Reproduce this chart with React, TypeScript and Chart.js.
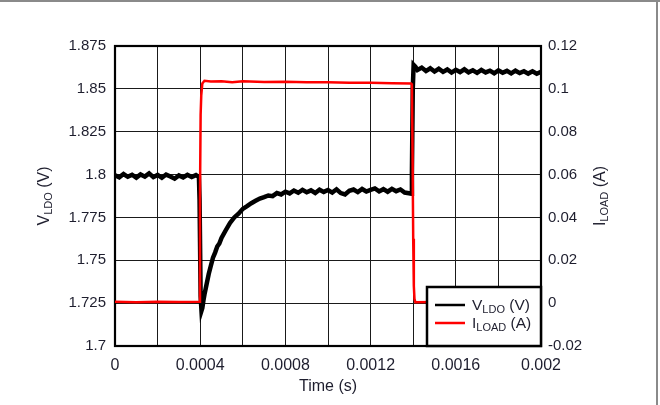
import React, { useEffect, useRef } from 'react';
import { Chart, registerables } from 'chart.js';

Chart.register(...registerables);

// ---------- data ----------
const timeV = [
  0, 0.00002, 0.00004, 0.00006, 0.00008, 0.0001, 0.00012, 0.00014, 0.00016, 0.00018,
  0.0002, 0.00022, 0.00024, 0.00026, 0.00028, 0.0003, 0.00032, 0.00034, 0.00036, 0.00038,
  0.000394, 0.000397, 0.000402, 0.000406, 0.00041, 0.000415, 0.00042, 0.00043, 0.00044, 0.00045,
  0.00046, 0.00047, 0.00048, 0.00049, 0.0005, 0.00052, 0.00054, 0.00056, 0.00058, 0.0006,
  0.00062, 0.00064, 0.00066, 0.00068, 0.0007, 0.00072, 0.00074, 0.00076, 0.00078, 0.0008,
  0.00082, 0.00084, 0.00086, 0.00088, 0.0009, 0.00092, 0.00094, 0.00096, 0.00098, 0.001,
  0.00102, 0.00104, 0.00106, 0.00108, 0.0011, 0.00112, 0.00114, 0.00116, 0.00118, 0.0012,
  0.00122, 0.00124, 0.00126, 0.00128, 0.0013, 0.00132, 0.00134, 0.00136, 0.00138, 0.001392,
  0.001394, 0.001398, 0.001402, 0.00141, 0.00142, 0.00144, 0.00146, 0.00148, 0.0015, 0.00152,
  0.00154, 0.00156, 0.00158, 0.0016, 0.00162, 0.00164, 0.00166, 0.00168, 0.0017, 0.00172,
  0.00174, 0.00176, 0.00178, 0.0018, 0.00182, 0.00184, 0.00186, 0.00188, 0.0019, 0.00192,
  0.00194, 0.00196, 0.00198, 0.002,
];
const vLdo = [
  1.7996, 1.7984, 1.8003, 1.7987, 1.7999, 1.7982, 1.8001, 1.7988, 1.8007, 1.7985,
  1.7998, 1.7981, 1.8, 1.7989, 1.7976, 1.7995, 1.7983, 1.7999, 1.7986, 1.7997,
  1.7986, 1.7855, 1.729, 1.7206, 1.7222, 1.7265, 1.73, 1.736, 1.742, 1.7468,
  1.7515, 1.7545, 1.758, 1.7598, 1.763, 1.7675, 1.7718, 1.775, 1.7772, 1.78,
  1.7816, 1.7833, 1.7847, 1.786, 1.7868, 1.7878, 1.7874, 1.7892, 1.7884, 1.79,
  1.789, 1.7907, 1.7894, 1.7911, 1.7897, 1.7908, 1.7893, 1.7912, 1.7899, 1.791,
  1.7895, 1.7914, 1.7892, 1.7884, 1.7905, 1.7913, 1.7898, 1.7916, 1.7901, 1.7911,
  1.7919, 1.7902, 1.7915, 1.79, 1.7917, 1.7903, 1.7913, 1.7895, 1.7891, 1.7888,
  1.801, 1.85, 1.864, 1.863, 1.861, 1.8624, 1.8604, 1.862, 1.8601, 1.8617,
  1.8599, 1.8613, 1.8595, 1.8611, 1.8598, 1.8614, 1.8596, 1.8608, 1.8593, 1.861,
  1.8596, 1.8606, 1.8591, 1.8608, 1.8594, 1.8605, 1.859, 1.8606, 1.8592, 1.8603,
  1.8589, 1.8602, 1.8588, 1.8599,
];
const timeI = [
  0, 0.0001, 0.0002, 0.0003, 0.000396, 0.000399, 0.000402, 0.000405, 0.00041, 0.00042,
  0.00045, 0.0005, 0.00055, 0.0006, 0.0007, 0.0008, 0.0009, 0.001, 0.0011, 0.0012,
  0.0013, 0.00139, 0.001394, 0.001397, 0.0014, 0.001403, 0.001406, 0.00141, 0.0015, 0.0017,
  0.002,
];
const iLoad = [
  0.0006, 0.0004, 0.0007, 0.0005, 0.0006, 0.05, 0.088, 0.097, 0.1025, 0.1038,
  0.1034, 0.1036, 0.1031, 0.1036, 0.1032, 0.1033, 0.1031, 0.1031, 0.1029, 0.1028,
  0.1026, 0.1025, 0.102, 0.07, 0.03, 0.008, 0.002, 0.0004, 0.0005, 0.0004,
  0.0005,
];

const xTicks = [0, 0.0002, 0.0004, 0.0006, 0.0008, 0.001, 0.0012, 0.0014, 0.0016, 0.0018, 0.002];
const xTickLabels = ['0', '', '0.0004', '', '0.0008', '', '0.0012', '', '0.0016', '', '0.002'];
const yLeftTicks = [1.7, 1.725, 1.75, 1.775, 1.8, 1.825, 1.85, 1.875];
const yLeftLabels = ['1.7', '1.725', '1.75', '1.775', '1.8', '1.825', '1.85', '1.875'];
const yRightTicks = [-0.02, 0, 0.02, 0.04, 0.06, 0.08, 0.1, 0.12];
const yRightLabels = ['-0.02', '0', '0.02', '0.04', '0.06', '0.08', '0.1', '0.12'];

const xTitle = 'Time (s)';
// rich text: [text, isSubscript]
const leftTitle: [string, boolean][] = [['V', false], ['LDO', true], [' (V)', false]];
const rightTitle: [string, boolean][] = [['I', false], ['LOAD', true], [' (A)', false]];
const seriesColors = ['#000000', '#ff0000'];

const FONT = "'Liberation Sans', Arial, sans-serif";
const TEXT = '#1e1e2e';
const MAIN = 16;
const SUB = 11;

function richWidth(ctx: CanvasRenderingContext2D, parts: [string, boolean][], main: number, sub: number) {
  let w = 0;
  for (const [t, s] of parts) {
    ctx.font = `${s ? sub : main}px ${FONT}`;
    w += ctx.measureText(t).width;
  }
  return w;
}
function drawRich(ctx: CanvasRenderingContext2D, parts: [string, boolean][], x: number, y: number, main: number, sub: number) {
  let cx = x;
  for (const [t, s] of parts) {
    ctx.font = `${s ? sub : main}px ${FONT}`;
    ctx.fillText(t, cx, s ? y + 3 : y);
    cx += ctx.measureText(t).width;
  }
}

const overlay = {
  id: 'overlay',
  beforeDraw(chart: any) {
    const ctx = chart.ctx as CanvasRenderingContext2D;
    ctx.save();
    ctx.fillStyle = '#8a8a8a';
    ctx.fillRect(0, 0, chart.width, 2);
    ctx.fillRect(656, 0, 2, chart.height);
    ctx.restore();
  },
  beforeDatasetsDraw(chart: any) {
    const ctx = chart.ctx as CanvasRenderingContext2D;
    const a = chart.chartArea;
    ctx.save();
    ctx.strokeStyle = '#000';
    ctx.lineWidth = 2.2;
    ctx.strokeRect(a.left, a.top, a.right - a.left, a.bottom - a.top);
    ctx.restore();
  },
  afterDatasetsDraw(chart: any) {
    const ctx = chart.ctx as CanvasRenderingContext2D;
    const a = chart.chartArea;
    ctx.save();
    // legend box
    const bw = 114, bh = 59;
    const bx = a.right - bw, by = a.bottom - bh;
    ctx.fillStyle = '#fff';
    ctx.fillRect(bx, by, bw, bh);
    ctx.strokeStyle = '#000';
    ctx.lineWidth = 2.5;
    ctx.strokeRect(bx, by, bw, bh);
    const items = [leftTitle, rightTitle];
    items.forEach((parts, i) => {
      const ly = by + 18 + i * 18;
      ctx.strokeStyle = seriesColors[i];
      ctx.lineWidth = 2.5;
      ctx.beginPath();
      ctx.moveTo(bx + 8, ly);
      ctx.lineTo(bx + 38, ly);
      ctx.stroke();
      ctx.fillStyle = TEXT;
      ctx.textBaseline = 'alphabetic';
      ctx.textAlign = 'left';
      drawRich(ctx, parts, bx + 45, ly + 5, 15.5, 11);
    });
    // axis titles
    ctx.fillStyle = TEXT;
    ctx.textBaseline = 'alphabetic';
    ctx.textAlign = 'left';
    ctx.font = `${MAIN}px ${FONT}`;
    const cx = (a.left + a.right) / 2;
    const cy = (a.top + a.bottom) / 2;
    const tw = ctx.measureText(xTitle).width;
    ctx.fillText(xTitle, cx - tw / 2, 391);
    ctx.save();
    ctx.translate(49, cy);
    ctx.rotate(-Math.PI / 2);
    drawRich(ctx, leftTitle, -richWidth(ctx, leftTitle, MAIN, SUB) / 2, 0, MAIN, SUB);
    ctx.restore();
    ctx.save();
    ctx.translate(605, cy);
    ctx.rotate(-Math.PI / 2);
    drawRich(ctx, rightTitle, -richWidth(ctx, rightTitle, MAIN, SUB) / 2, 0, MAIN, SUB);
    ctx.restore();
    ctx.restore();
  },
};

export default function App() {
  const ref = useRef<HTMLCanvasElement>(null);
  useEffect(() => {
    if (!ref.current) return;
    const chart = new Chart(ref.current, {
      type: 'line',
      data: {
        datasets: [
          {
            label: 'VLDO (V)',
            data: timeV.map((t, i) => ({ x: t, y: vLdo[i] })),
            borderColor: seriesColors[0],
            borderWidth: 4.5,
            pointRadius: 0,
            tension: 0,
            yAxisID: 'y',
            order: 1,
          },
          {
            label: 'ILOAD (A)',
            data: timeI.map((t, i) => ({ x: t, y: iLoad[i] })),
            borderColor: seriesColors[1],
            borderWidth: 2.5,
            pointRadius: 0,
            tension: 0,
            yAxisID: 'y2',
            order: 0,
          },
        ],
      },
      options: {
        responsive: false,
        animation: false,
        events: [],
        layout: { padding: { top: 46, left: 0, right: 0, bottom: 0 } },
        plugins: { legend: { display: false }, tooltip: { enabled: false } },
        scales: {
          x: {
            type: 'linear',
            min: 0,
            max: 0.002,
            afterBuildTicks: (s: any) => { s.ticks = xTicks.map((v) => ({ value: v })); },
            afterFit: (s: any) => { s.height = 59; },
            ticks: {
              autoSkip: false,
              maxRotation: 0,
              padding: 10,
              color: TEXT,
              font: { family: FONT, size: 16 },
              callback: (_v: any, i: number) => xTickLabels[i],
            },
            grid: { color: '#1a1a1a', lineWidth: 1, drawTicks: false },
            border: { display: false },
          },
          y: {
            type: 'linear',
            position: 'left',
            min: 1.7,
            max: 1.875,
            afterBuildTicks: (s: any) => { s.ticks = yLeftTicks.map((v) => ({ value: v })); },
            afterFit: (s: any) => { s.width = 115; },
            ticks: {
              padding: 9,
              color: TEXT,
              font: { family: FONT, size: 15 },
              callback: (_v: any, i: number) => yLeftLabels[i],
            },
            grid: { color: '#1a1a1a', lineWidth: 1, drawTicks: false },
            border: { display: false },
          },
          y2: {
            type: 'linear',
            position: 'right',
            min: -0.02,
            max: 0.12,
            afterBuildTicks: (s: any) => { s.ticks = yRightTicks.map((v) => ({ value: v })); },
            afterFit: (s: any) => { s.width = 119; },
            ticks: {
              padding: 7,
              color: TEXT,
              font: { family: FONT, size: 15 },
              callback: (_v: any, i: number) => yRightLabels[i],
            },
            grid: { display: false, drawTicks: false },
            border: { display: false },
          },
        },
      },
      plugins: [overlay],
    } as any);
    return () => chart.destroy();
  }, []);
  return (
    <div style={{ position: 'fixed', left: 0, top: 0, width: 660, height: 405, background: '#fff' }}>
      <canvas ref={ref} width={660} height={405} style={{ width: 660, height: 405 }} />
    </div>
  );
}
